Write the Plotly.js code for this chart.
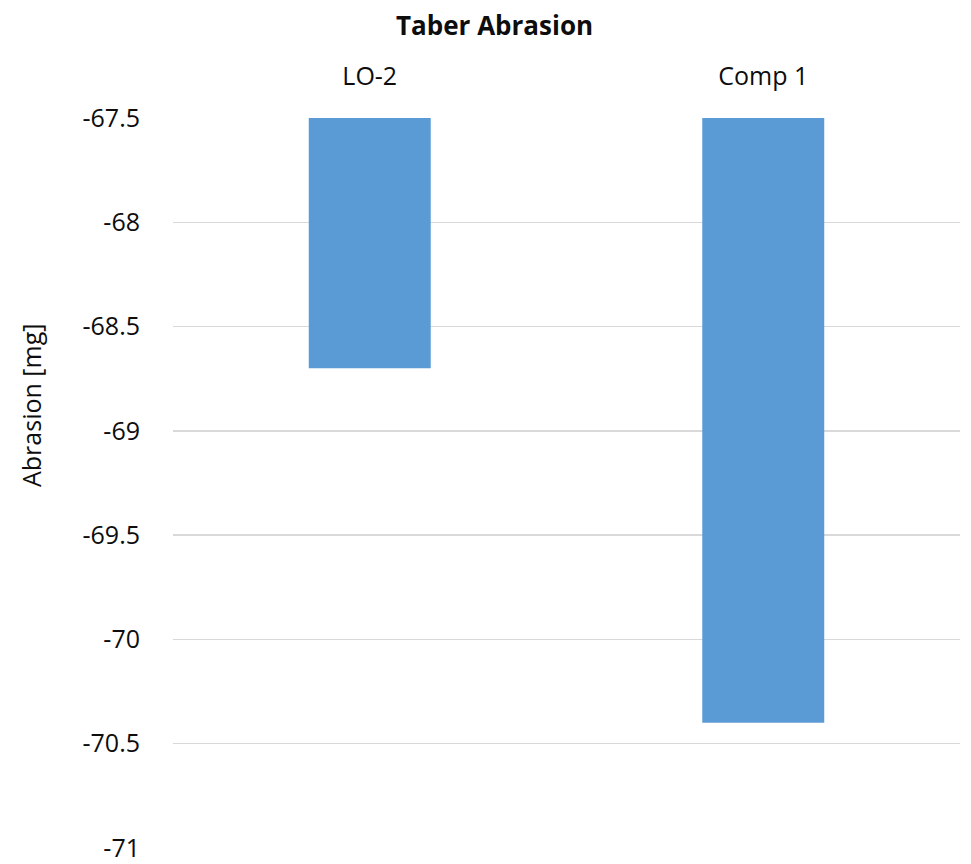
<!DOCTYPE html>
<html>
<head>
<meta charset="utf-8">
<script src="https://cdn.plot.ly/plotly-3.0.1.min.js"></script>
<style>
  html, body { margin: 0; padding: 0; background: #fff; }
  #chart { width: 971px; height: 864px; }
</style>
</head>
<body>
<div id="chart"></div>
<script>
// Taber abrasion loss per compound (mg); bars hang from the top of the axis
const categories = ['LO-2', 'Comp 1'];
const abrasion = [-68.7, -70.4];
const axisTop = -67.5;
const axisBottom = -71;
const tickValues = [-67.5, -68, -68.5, -69, -69.5, -70, -70.5, -71];
const tickLabels = ['-67.5', '-68', '-68.5', '-69', '-69.5', '-70', '-70.5', '-71'];

const FONT = '"Open Sans", "Noto Sans", sans-serif';

const trace = {
  type: 'bar',
  x: categories,
  base: categories.map(() => axisTop),
  y: abrasion.map(v => v - axisTop),
  width: 0.31,
  marker: { color: '#5b9bd5', line: { width: 0 } },
  hoverinfo: 'x+text',
  text: abrasion.map(String),
  textposition: 'none'
};

const layout = {
  width: 971,
  height: 864,
  margin: { l: 173, r: 11, t: 118, b: 16 },
  paper_bgcolor: '#ffffff',
  plot_bgcolor: '#ffffff',
  showlegend: false,
  font: { family: FONT, color: '#0d0d0d' },
  xaxis: {
    side: 'top',
    type: 'category',
    range: [-0.5, 1.5],
    showgrid: false,
    showline: false,
    zeroline: false,
    ticks: 'outside',
    ticklen: 22,
    tickcolor: 'rgba(0,0,0,0)',
    tickfont: { family: FONT, size: 25, color: '#0d0d0d' },
    fixedrange: true
  },
  yaxis: {
    range: [axisBottom, axisTop],
    tickmode: 'array',
    tickvals: tickValues,
    ticktext: tickLabels,
    showgrid: true,
    gridcolor: '#d9d9d9',
    gridwidth: 1.5,
    showline: false,
    zeroline: false,
    ticks: 'outside',
    ticklen: 27,
    tickcolor: 'rgba(0,0,0,0)',
    tickfont: { family: FONT, size: 25, color: '#0d0d0d' },
    fixedrange: true
  },
  annotations: [
    {
      text: '<b>Taber Abrasion</b>',
      xref: 'paper', yref: 'paper',
      x: (494 - 173) / 787, y: 1,
      yshift: 93,
      xanchor: 'center', yanchor: 'middle',
      showarrow: false,
      font: { family: FONT, size: 26, color: '#0d0d0d' }
    },
    {
      text: 'Abrasion [mg]',
      xref: 'paper', yref: 'paper',
      x: 0, xshift: -142,
      y: (848 - 406) / 730,
      xanchor: 'center', yanchor: 'middle',
      textangle: -90,
      showarrow: false,
      font: { family: FONT, size: 25, color: '#0d0d0d' }
    }
  ]
};

Plotly.newPlot('chart', [trace], layout, { displayModeBar: false, staticPlot: true });
</script>
</body>
</html>
